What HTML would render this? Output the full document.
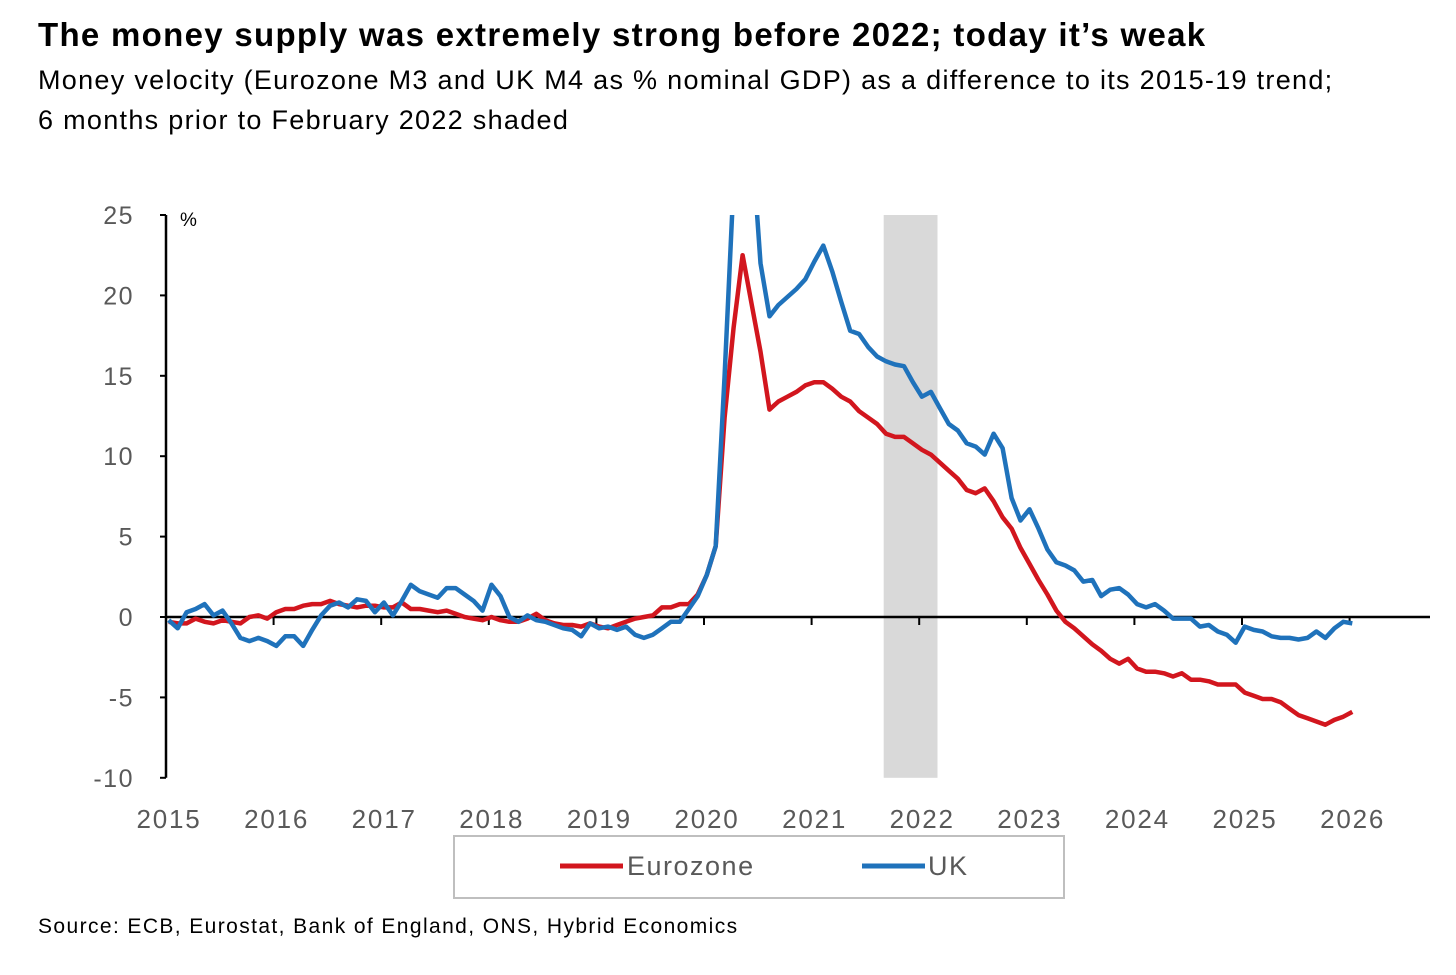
<!DOCTYPE html>
<html><head><meta charset="utf-8"><style>
body{margin:0;background:#fff;width:1456px;height:975px;overflow:hidden;font-family:"Liberation Sans",Arial,sans-serif;}
.t{position:absolute;left:38px;white-space:nowrap;color:#000}
</style></head><body>
<div class="t" style="top:16px;font-size:33px;font-weight:bold;letter-spacing:1.3px;">The money supply was extremely strong before 2022; today it’s weak</div>
<div class="t" style="top:60px;font-size:27px;line-height:40px;letter-spacing:1.3px;">Money velocity (Eurozone M3 and UK M4 as % nominal GDP) as a difference to its 2015-19 trend;<br>6 months prior to February 2022 shaded</div>
<div class="t" style="top:915px;font-size:21px;letter-spacing:1.4px;">Source: ECB, Eurostat, Bank of England, ONS, Hybrid Economics</div>
<svg id="chart" width="1456" height="975" style="position:absolute;left:0;top:0"></svg>
<script>
const yTicks=[25,20,15,10,5,0,-5,-10];
const years=[2015,2016,2017,2018,2019,2020,2021,2022,2023,2024,2025,2026];
const shade=[2021.67,2022.17];
const euro=[-0.3,-0.4,-0.4,-0.1,-0.3,-0.4,-0.2,-0.3,-0.4,0,0.1,-0.1,0.3,0.5,0.5,0.7,0.8,0.8,1.0,0.8,0.7,0.6,0.7,0.7,0.6,0.6,0.9,0.5,0.5,0.4,0.3,0.4,0.2,0,-0.1,-0.2,0,-0.2,-0.3,-0.3,-0.1,0.2,-0.2,-0.4,-0.5,-0.5,-0.6,-0.4,-0.6,-0.7,-0.5,-0.3,-0.1,0,0.1,0.6,0.6,0.8,0.8,1.4,
2.6,4.4,12.4,18,22.5,19.5,16.5,12.9,13.4,13.7,14.0,14.4,14.6,14.6,14.2,13.7,13.4,12.8,12.4,12.0,11.4,11.2,11.2,10.8,10.4,10.1,9.6,9.1,8.6,7.9,7.7,8.0,7.2,6.2,5.5,4.3,3.3,2.3,1.4,0.4,-0.3,-0.7,-1.2,-1.7,-2.1,-2.6,-2.9,-2.6,-3.2,-3.4,-3.4,-3.5,-3.7,-3.5,-3.9,-3.9,-4.0,-4.2,-4.2,-4.2,-4.7,-4.9,-5.1,-5.1,-5.3,-5.7,-6.1,-6.3,-6.5,-6.7,-6.4,-6.2,-5.9];
const uk=[-0.2,-0.7,0.3,0.5,0.8,0.1,0.4,-0.4,-1.3,-1.5,-1.3,-1.5,-1.8,-1.2,-1.2,-1.8,-0.8,0.1,0.7,0.9,0.6,1.1,1.0,0.3,0.9,0.1,1.0,2.0,1.6,1.4,1.2,1.8,1.8,1.4,1.0,0.4,2.0,1.3,0.0,-0.3,0.1,-0.2,-0.3,-0.5,-0.7,-0.8,-1.2,-0.4,-0.7,-0.6,-0.8,-0.6,-1.1,-1.3,-1.1,-0.7,-0.3,-0.3,0.5,1.3,
2.6,4.4,15,27,33,30,22,18.7,19.4,19.9,20.4,21.0,22.1,23.1,21.5,19.6,17.8,17.6,16.8,16.2,15.9,15.7,15.6,14.6,13.7,14.0,13.0,12.0,11.6,10.8,10.6,10.1,11.4,10.5,7.4,6.0,6.7,5.5,4.2,3.4,3.2,2.9,2.2,2.3,1.3,1.7,1.8,1.4,0.8,0.6,0.8,0.4,-0.1,-0.1,-0.1,-0.6,-0.5,-0.9,-1.1,-1.6,-0.6,-0.8,-0.9,-1.2,-1.3,-1.3,-1.4,-1.3,-0.9,-1.3,-0.7,-0.3,-0.4];
const NS='http://www.w3.org/2000/svg';
const svg=document.getElementById('chart');
const X0=166,YR=107.6,Y0=617,PU=16.08;
function xYear(y){return X0+(y-2015)*YR;}
function xIdx(i){return X0+(i+0.3)*YR/12;}
function yVal(v){return Y0-v*PU;}
function mk(tag,attrs){const e=document.createElementNS(NS,tag);for(const k in attrs)e.setAttribute(k,attrs[k]);svg.appendChild(e);return e;}
const defs=mk('defs',{});
const cp=document.createElementNS(NS,'clipPath');cp.setAttribute('id','plot');
const cr=document.createElementNS(NS,'rect');cr.setAttribute('x',160);cr.setAttribute('y',yVal(25));cr.setAttribute('width',1280);cr.setAttribute('height',600);
cp.appendChild(cr);defs.appendChild(cp);
const sh=mk('rect',{x:xYear(shade[0]),y:yVal(25),width:xYear(shade[1])-xYear(shade[0]),height:yVal(-10)-yVal(25),fill:'#d9d9d9'});


const ya=mk('line',{x1:X0,x2:X0,y1:yVal(25),y2:yVal(-10),stroke:'#000','stroke-width':2.5});


yTicks.forEach(v=>{
  mk('line',{x1:X0-6,x2:X0,y1:yVal(v),y2:yVal(v),stroke:'#000','stroke-width':2});
  const t=mk('text',{x:134,y:yVal(v)+9,'text-anchor':'end','font-size':25,fill:'#595959','letter-spacing':1.5});
  t.textContent=v;
  
  
});
const pc=mk('text',{x:180,y:226,'font-size':19,fill:'#000'});pc.textContent='%';


const xa=mk('line',{x1:X0,x2:1430,y1:Y0,y2:Y0,stroke:'#000','stroke-width':2.5});


years.forEach(y=>{
  mk('line',{x1:xYear(y),x2:xYear(y),y1:Y0,y2:Y0+8,stroke:'#000','stroke-width':2});
  const t=mk('text',{x:xYear(y)+3,y:828,'text-anchor':'middle','font-size':26,fill:'#595959','letter-spacing':1.8});
  t.textContent=y;
  
  
});
function series(arr,color,name){
  const d=arr.map((v,i)=>(i?'L':'M')+xIdx(i).toFixed(1)+','+yVal(v).toFixed(1)).join('');
  const p=mk('path',{d:d,fill:'none',stroke:color,'stroke-width':4.5,'stroke-linejoin':'round','clip-path':'url(#plot)'});
  
  
}
series(euro,'#d2161e','eurozone-line');
series(uk,'#1f72bb','uk-line');
const lb=mk('rect',{x:454,y:836,width:610,height:62,fill:'#fff',stroke:'#bfbfbf','stroke-width':2});


mk('line',{x1:560,x2:623,y1:866,y2:866,stroke:'#d2161e','stroke-width':5});
const l1=mk('text',{x:627,y:875,'font-size':27,fill:'#595959','letter-spacing':1.5});l1.textContent='Eurozone';


mk('line',{x1:862,x2:925,y1:866,y2:866,stroke:'#1f72bb','stroke-width':5});
const l2=mk('text',{x:928,y:875,'font-size':27,fill:'#595959','letter-spacing':1.5});l2.textContent='UK';


</script>
</body></html>
